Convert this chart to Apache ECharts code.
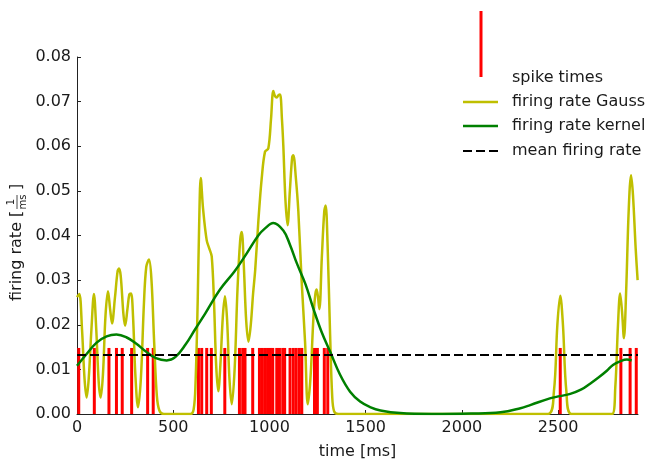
<!DOCTYPE html>
<html>
<head>
<meta charset="utf-8">
<script src="https://cdn.jsdelivr.net/npm/echarts@6/dist/echarts.min.js"></script>
<style>html,body{margin:0;padding:0;background:#fff}#c{width:653px;height:465px}</style>
</head>
<body>
<div id="c"></div>
<script>
// ---- data ----
const spikeTimes = [9, 90, 166, 205, 235, 284, 367, 396,
  631, 648, 674, 698, 768, 844, 861, 873, 913, 948, 961, 975, 990, 1005, 1017,
  1038, 1052, 1069, 1079, 1107, 1124, 1139, 1155, 1168, 1234, 1249, 1285, 1303,
  2511, 2826, 2874, 2906];
const spikeHeight = 0.0148;
const meanRate = 0.0132;
const gaussT = [0,12,26,39,50,61,75,88,100,113,123,135,148,161,172,182,197,211,218,227,241,250,262,272,281,291,303,317,332,348,360,374,387,401,415,428,451,
  589,606,616,627,635,643,655,674,688,700,712,723,734,745,758,769,780,792,804,819,834,848,856,866,879,891,903,915,926,942,960,977,994,1008,1020,1029,1038,1046,1055,1065,1072,1083,1094,1106,1118,1124,1137,1150,1167,1185,1199,1213,1229,1239,1246,1259,1272,1285,1292,1302,1315,1326,1336,1357,
  2447,2478,2496,2511,2525,2543,2570,2780,2797,2811,2822,2832,2842,2853,2867,2879,2889,2903,2913];
const gaussV = [0.0262,0.0269,0.019,0.008,0.0037,0.008,0.019,0.0269,0.019,0.007,0.0037,0.009,0.022,0.0275,0.0235,0.0203,0.026,0.032,0.0326,0.031,0.0225,0.0198,0.0235,0.0268,0.027,0.022,0.009,0.0015,0.008,0.025,0.033,0.0346,0.03,0.016,0.004,0.0008,0,
  0,0.001,0.007,0.025,0.043,0.0529,0.046,0.0389,0.037,0.0353,0.025,0.011,0.0051,0.011,0.022,0.0264,0.021,0.008,0.0022,0.01,0.028,0.039,0.0408,0.034,0.021,0.0162,0.02,0.027,0.0323,0.043,0.0529,0.0588,0.0595,0.066,0.0724,0.0712,0.0709,0.0714,0.0716,0.066,0.0602,0.048,0.0423,0.05,0.0575,0.058,0.053,0.0455,0.03,0.0162,0.0022,0.008,0.022,0.027,0.0279,0.0235,0.035,0.0455,0.0467,0.038,0.018,0.004,0.0006,0,
  0,0.005,0.02,0.0265,0.02,0.005,0,0,0.006,0.02,0.027,0.023,0.017,0.027,0.046,0.0535,0.049,0.037,0.030];
const kernelT = [0,51,102,154,205,256,307,358,410,466,512,563,614,666,743,819,882,942,977,1020,1072,1106,1142,1188,1229,1270,1315,1367,1419,1471,1526,1577,1679,1843,2048,2201,2304,2355,2457,2509,2563,2621,2666,2713,2753,2785,2822,2857,2882];
const kernelV = [0.0108,0.0135,0.016,0.0174,0.0178,0.0172,0.0158,0.014,0.0125,0.012,0.0128,0.0155,0.019,0.0225,0.0279,0.032,0.036,0.040,0.0416,0.0428,0.0411,0.038,0.0338,0.029,0.0235,0.0185,0.014,0.0088,0.005,0.0028,0.0015,0.0008,0.0002,0,0.0001,0.0004,0.0013,0.002,0.0035,0.004,0.0045,0.0055,0.0068,0.0083,0.0097,0.011,0.0118,0.0122,0.012];
const xTicks = [0, 500, 1000, 1500, 2000, 2500];
const yTicks = [0, 0.01, 0.02, 0.03, 0.04, 0.05, 0.06, 0.07, 0.08];
const xMax = 2915;
const legendLabels = ['spike times', 'firing rate Gauss', 'firing rate kernel', 'mean firing rate'];

// ---- chart ----
const FONT = 'DejaVu Sans';
const TXT = '#1a1a1a';
const chart = echarts.init(document.getElementById('c'), null, {renderer: 'canvas'});
const zip = (a, b) => a.map((t, i) => [t, b[i]]);
const axisCommon = {
  axisLine: {show: true, lineStyle: {color: '#222', width: 1}},
  axisTick: {show: true, inside: true, length: 4, lineStyle: {color: '#222'}},
  splitLine: {show: false},
  axisLabel: {color: TXT, fontFamily: FONT, fontSize: 16}
};
chart.setOption({
  animation: false,
  backgroundColor: '#fff',
  grid: {left: 77, right: 15, top: 57, bottom: 45, containLabel: false},
  xAxis: Object.assign({}, axisCommon, {
    type: 'value', min: 0, max: xMax, interval: 500,
    axisLabel: Object.assign({}, axisCommon.axisLabel, {margin: 6, showMaxLabel: false,
      formatter: v => xTicks.includes(v) ? String(v) : ''}),
    name: 'time [ms]', nameLocation: 'middle', nameGap: 30,
    nameTextStyle: {color: TXT, fontFamily: FONT, fontSize: 16}
  }),
  yAxis: Object.assign({}, axisCommon, {
    type: 'value', min: 0, max: 0.08, interval: 0.01,
    axisLabel: Object.assign({}, axisCommon.axisLabel, {margin: 6,
      formatter: v => yTicks.some(t => Math.abs(t - v) < 1e-9) ? v.toFixed(2) : ''})
  }),
  series: [
    {type: 'bar', data: spikeTimes.map(t => [t, spikeHeight]), barWidth: 3,
     itemStyle: {color: '#ff0000'}, silent: true, z: 1},
    {type: 'line', data: zip(gaussT, gaussV), smooth: 0.35, showSymbol: false,
     lineStyle: {color: '#bfbf00', width: 2.5}, z: 3},
    {type: 'line', data: zip(kernelT, kernelV), smooth: 0.4, showSymbol: false,
     lineStyle: {color: '#008000', width: 2.5}, z: 4},
    {type: 'line', data: [[0, meanRate], [xMax, meanRate]], showSymbol: false,
     lineStyle: {color: '#000', width: 2, type: [9, 4]}, z: 5}
  ],
  graphic: [
    // y-axis label with fraction
    {type: 'group', x: 17, y: 231, rotation: Math.PI / 2, children: [
      {type: 'text', x: -70, y: 0, style: {text: 'firing rate [', font: '16px ' + FONT, fill: TXT, align: 'left', verticalAlign: 'middle'}},
      {type: 'text', x: 29, y: -6, style: {text: '1', font: '10px ' + FONT, fill: TXT, align: 'center', verticalAlign: 'middle'}},
      {type: 'line', shape: {x1: 22, y1: 0, x2: 36, y2: 0}, style: {stroke: TXT, lineWidth: 0.8}},
      {type: 'text', x: 29, y: 6, style: {text: 'ms', font: '10px ' + FONT, fill: TXT, align: 'center', verticalAlign: 'middle'}},
      {type: 'text', x: 41, y: 0, style: {text: ']', font: '16px ' + FONT, fill: TXT, align: 'left', verticalAlign: 'middle'}}
    ]},
    // legend
    {type: 'line', shape: {x1: 481, y1: 11, x2: 481, y2: 77}, style: {stroke: '#ff0000', lineWidth: 3}},
    {type: 'text', x: 512, y: 78, style: {text: legendLabels[0], font: '16px ' + FONT, fill: TXT, verticalAlign: 'middle'}},
    {type: 'line', shape: {x1: 463, y1: 102, x2: 498, y2: 102}, style: {stroke: '#bfbf00', lineWidth: 2.5}},
    {type: 'text', x: 512, y: 102, style: {text: legendLabels[1], font: '16px ' + FONT, fill: TXT, verticalAlign: 'middle'}},
    {type: 'line', shape: {x1: 463, y1: 126, x2: 498, y2: 126}, style: {stroke: '#008000', lineWidth: 2.5}},
    {type: 'text', x: 512, y: 126, style: {text: legendLabels[2], font: '16px ' + FONT, fill: TXT, verticalAlign: 'middle'}},
    {type: 'line', shape: {x1: 463, y1: 151, x2: 498, y2: 151}, style: {stroke: '#000', lineWidth: 2, lineDash: [9, 4]}},
    {type: 'text', x: 512, y: 151, style: {text: legendLabels[3], font: '16px ' + FONT, fill: TXT, verticalAlign: 'middle'}}
  ]
});
</script>
</body>
</html>
